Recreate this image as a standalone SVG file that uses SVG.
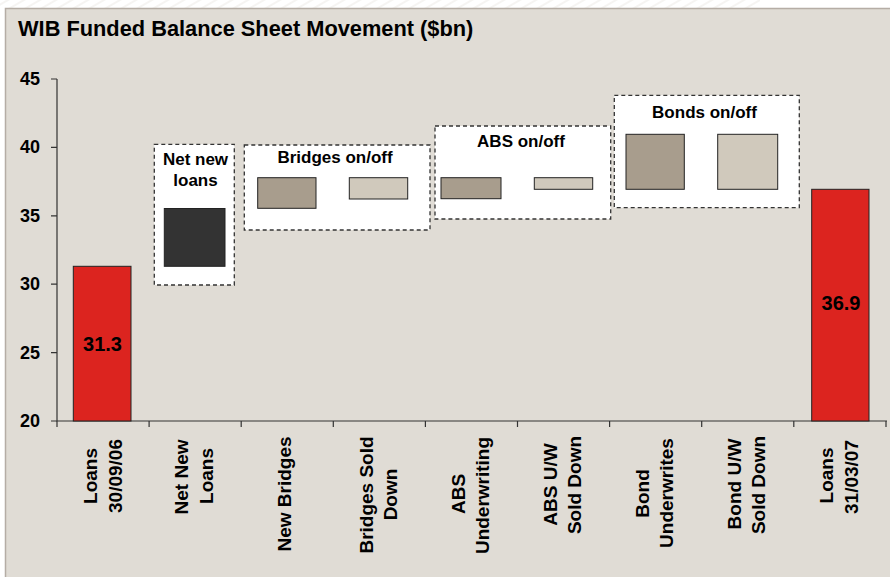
<svg xmlns="http://www.w3.org/2000/svg" width="890" height="577" viewBox="0 0 890 577">
  <defs>
    <pattern id="hatch" width="8" height="8" patternUnits="userSpaceOnUse" patternTransform="rotate(-30)">
      <line x1="0" y1="4" x2="8" y2="4" stroke="#ece9e5" stroke-width="1"/>
    </pattern>
    <style>
      text { font-family: "Liberation Sans", Arial, sans-serif; font-weight: bold; fill: #000; }
      .title { font-size: 21.8px; }
      .ylab { font-size: 18px; text-anchor: end; }
      .xlab { font-size: 19px; text-anchor: middle; }
      .box { fill: #ffffff; stroke: #333; stroke-width: 1.3; stroke-dasharray: 4 3; }
      .boxtitle { font-size: 17px; text-anchor: middle; }
      .bar { stroke: #222; stroke-width: 1; }
      .red { fill: #dc241f; }
      .dark { fill: #333333; }
      .taupe { fill: #a89d8d; }
      .light { fill: #d0c9bc; }
      .val { font-size: 20px; text-anchor: middle; }
      .axis { stroke: #333; stroke-width: 1.2; fill: none; }
    </style>
  </defs>

  <!-- page background -->
  <rect x="0" y="0" width="890" height="577" fill="#ffffff"/>
  <rect x="0" y="0" width="760" height="9" fill="url(#hatch)"/>
  <!-- panel -->
  <rect x="5.5" y="8.5" width="890" height="575" fill="#e0dcd5" stroke="#b5ada5" stroke-width="1.5"/>

  <text class="title" x="18" y="36">WIB Funded Balance Sheet Movement ($bn)</text>

  <!-- axes -->
  <g id="axes">
    <path class="axis" d="M57,79 V421 H887"/>
    <path class="axis" d="M51,79 H57 M51,147.4 H57 M51,215.8 H57 M51,284.2 H57 M51,352.6 H57 M51,421 H57"/>
    <path class="axis" d="M57,421 V427 M149.1,421 V427 M241.2,421 V427 M333.3,421 V427 M425.4,421 V427 M517.5,421 V427 M609.6,421 V427 M701.7,421 V427 M793.8,421 V427 M886,421 V427"/>
    <text class="ylab" x="40" y="85">45</text>
    <text class="ylab" x="40" y="153.4">40</text>
    <text class="ylab" x="40" y="221.8">35</text>
    <text class="ylab" x="40" y="290.2">30</text>
    <text class="ylab" x="40" y="358.6">25</text>
    <text class="ylab" x="40" y="427">20</text>
  </g>

  <!-- category labels -->
  <g id="xlabels">
    <text class="xlab" transform="translate(97,476) rotate(-90)">Loans</text>
    <text class="xlab" transform="translate(121.5,476) rotate(-90)">30/09/06</text>
    <text class="xlab" transform="translate(188.3,477) rotate(-90)">Net New</text>
    <text class="xlab" transform="translate(213.3,476) rotate(-90)">Loans</text>
    <text class="xlab" transform="translate(291.3,494) rotate(-90)">New Bridges</text>
    <text class="xlab" transform="translate(372.5,495) rotate(-90)">Bridges Sold</text>
    <text class="xlab" transform="translate(397,494.5) rotate(-90)">Down</text>
    <text class="xlab" transform="translate(464.5,494) rotate(-90)">ABS</text>
    <text class="xlab" transform="translate(489,495.5) rotate(-90)">Underwriting</text>
    <text class="xlab" transform="translate(556.6,484.5) rotate(-90)">ABS U/W</text>
    <text class="xlab" transform="translate(581,485) rotate(-90)">Sold Down</text>
    <text class="xlab" transform="translate(648.7,493.5) rotate(-90)">Bond</text>
    <text class="xlab" transform="translate(673,493) rotate(-90)">Underwrites</text>
    <text class="xlab" transform="translate(740.8,484) rotate(-90)">Bond U/W</text>
    <text class="xlab" transform="translate(765,485) rotate(-90)">Sold Down</text>
    <text class="xlab" transform="translate(833.3,475.5) rotate(-90)">Loans</text>
    <text class="xlab" transform="translate(857.5,477) rotate(-90)">31/03/07</text>
  </g>

  <!-- start bar -->
  <g id="loans-start">
    <rect class="bar red" x="73.3" y="266.3" width="57.7" height="154.7"/>
    <text class="val" x="102.5" y="350.5">31.3</text>
  </g>

  <!-- net new loans -->
  <g id="net-new-loans">
    <rect class="box" x="154.3" y="144.3" width="80" height="140.7"/>
    <text class="boxtitle" x="195.5" y="165">Net new</text>
    <text class="boxtitle" x="195.5" y="186">loans</text>
    <rect class="bar dark" x="164.3" y="208.5" width="60.7" height="57.8"/>
  </g>

  <!-- bridges -->
  <g id="bridges">
    <rect class="box" x="244.3" y="145" width="185.7" height="85"/>
    <text class="boxtitle" x="335" y="163">Bridges on/off</text>
    <rect class="bar taupe" x="257.7" y="177.7" width="58.3" height="30.6"/>
    <rect class="bar light" x="349.3" y="177.7" width="58.4" height="21.3"/>
  </g>

  <!-- ABS -->
  <g id="abs">
    <rect class="box" x="435" y="126" width="175.7" height="93"/>
    <text class="boxtitle" x="521" y="147">ABS on/off</text>
    <rect class="bar taupe" x="441" y="177.7" width="60" height="21"/>
    <rect class="bar light" x="534.3" y="177.7" width="58.4" height="11.6"/>
  </g>

  <!-- bonds -->
  <g id="bonds">
    <rect class="box" x="614.3" y="95.3" width="185" height="112.4"/>
    <text class="boxtitle" x="704.5" y="118">Bonds on/off</text>
    <rect class="bar taupe" x="626" y="134.3" width="58.3" height="55"/>
    <rect class="bar light" x="717.7" y="134.3" width="60" height="55"/>
  </g>

  <!-- end bar -->
  <g id="loans-end">
    <rect class="bar red" x="811.7" y="189.3" width="57.3" height="231.7"/>
    <text class="val" x="841" y="310">36.9</text>
  </g>
</svg>
